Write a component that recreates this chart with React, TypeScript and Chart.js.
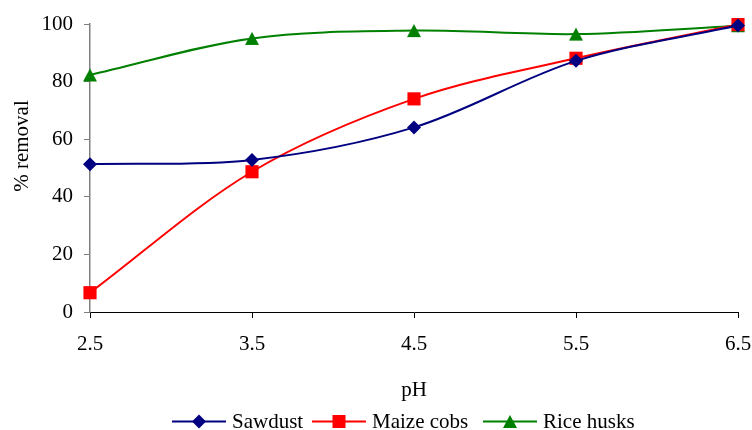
import React, { useEffect, useRef } from "react";
import { Chart, registerables } from "chart.js";

Chart.register(...registerables);

const phValues = [2.5, 3.5, 4.5, 5.5, 6.5];
const sawdust = [51.3, 52.8, 64.1, 87.2, 99.5];
const maizeCobs = [6.7, 48.7, 74.0, 88.1, 99.8];
const riceHusks = [82.3, 95.0, 97.7, 96.5, 99.4];
const seriesNames = ["Sawdust", "Maize cobs", "Rice husks"];
const xTickValues = [2.5, 3.5, 4.5, 5.5, 6.5];
const yTickStep = 20;
const xTitle = "pH";
const yTitle = "% removal";

const FONT = "'Liberation Serif', 'Times New Roman', serif";
const NAVY = "#000080";
const RED = "#FF0000";
const GREEN = "#008000";
const LEGEND_STARTS = [172, 312, 483];

function makeTriangle(color: string, w: number, h: number): HTMLCanvasElement {
  const c = document.createElement("canvas");
  c.width = w + 2;
  c.height = h + 2;
  const ctx = c.getContext("2d")!;
  ctx.fillStyle = color;
  ctx.beginPath();
  ctx.moveTo(1 + w / 2, 1);
  ctx.lineTo(1 + w, 1 + h);
  ctx.lineTo(1, 1 + h);
  ctx.closePath();
  ctx.fill();
  return c;
}

function pts(vals: number[]) {
  return phValues.map((x, i) => ({ x, y: vals[i] }));
}

export default function App() {
  const ref = useRef<HTMLCanvasElement | null>(null);

  useEffect(() => {
    if (!ref.current) return;
    const tri = makeTriangle(GREEN, 14, 13);

    const textPlugin = {
      id: "customText",
      afterDraw(chart: any) {
        const ctx = chart.ctx as CanvasRenderingContext2D;
        const area = chart.chartArea;
        ctx.save();
        ctx.fillStyle = "#000";
        // x title
        ctx.font = `21px ${FONT}`;
        ctx.textAlign = "center";
        ctx.textBaseline = "alphabetic";
        ctx.fillText(xTitle, (area.left + area.right) / 2, 396);
        // y title
        ctx.save();
        ctx.translate(28, 146);
        ctx.rotate(-Math.PI / 2);
        ctx.font = `21px ${FONT}`;
        ctx.textAlign = "center";
        ctx.textBaseline = "alphabetic";
        ctx.fillText(yTitle, 0, 0);
        ctx.restore();

        // legend
        const ly = 421.5;
        const lineLen = 54;
        ctx.font = `21px ${FONT}`;
        ctx.textAlign = "left";
        ctx.textBaseline = "middle";
        const colors = [NAVY, RED, GREEN];
        seriesNames.forEach((name, i) => {
          const x = LEGEND_STARTS[i];
          const col = colors[i];
          ctx.strokeStyle = col;
          ctx.lineWidth = 2;
          ctx.beginPath();
          ctx.moveTo(x, ly);
          ctx.lineTo(x + lineLen, ly);
          ctx.stroke();
          const cx = x + lineLen / 2;
          ctx.fillStyle = col;
          if (i === 0) {
            const r = 7;
            ctx.beginPath();
            ctx.moveTo(cx - r, ly);
            ctx.lineTo(cx, ly - r);
            ctx.lineTo(cx + r, ly);
            ctx.lineTo(cx, ly + r);
            ctx.closePath();
            ctx.fill();
          } else if (i === 1) {
            ctx.fillRect(cx - 6.5, ly - 6.5, 13, 13);
          } else {
            ctx.drawImage(tri, cx - tri.width / 2, ly - tri.height / 2);
          }
          ctx.fillStyle = "#000";
          ctx.fillText(name, x + lineLen + 6, ly + 1);
        });
        ctx.restore();
      },
    };

    const common = {
      borderWidth: 2,
      tension: 0.33,
      fill: false,
      clip: false as any,
      pointBorderWidth: 0,
    };

    const chart = new Chart(ref.current, {
      type: "line",
      data: {
        datasets: [
          {
            ...common,
            label: seriesNames[0],
            data: pts(sawdust),
            borderColor: NAVY,
            backgroundColor: NAVY,
            pointBackgroundColor: NAVY,
            pointBorderColor: NAVY,
            pointStyle: "rectRot",
            pointRadius: 7,
          },
          {
            ...common,
            label: seriesNames[1],
            data: pts(maizeCobs),
            borderColor: RED,
            backgroundColor: RED,
            pointBackgroundColor: RED,
            pointBorderColor: RED,
            pointStyle: "rect",
            pointRadius: 9.3,
          },
          {
            ...common,
            label: seriesNames[2],
            data: pts(riceHusks),
            borderColor: GREEN,
            backgroundColor: GREEN,
            pointBackgroundColor: GREEN,
            pointBorderColor: GREEN,
            pointStyle: tri as any,
            pointRadius: 8,
          },
        ],
      },
      options: {
        responsive: false,
        animation: false,
        layout: { padding: { top: 24, right: 14, left: 0, bottom: 0 } },
        plugins: {
          legend: { display: false },
          tooltip: { enabled: false },
        },
        scales: {
          x: {
            type: "linear",
            min: 2.5,
            max: 6.5,
            afterBuildTicks: (scale: any) => {
              scale.ticks = xTickValues.map((v) => ({ value: v }));
            },
            afterFit: (scale: any) => {
              scale.height = 118;
              scale.paddingRight = 0;
              scale.paddingLeft = 0;
            },
            grid: {
              display: true,
              drawOnChartArea: false,
              drawTicks: true,
              tickLength: 6,
              color: "#000",
              lineWidth: 1,
            },
            border: { display: true, color: "#000", width: 1 },
            ticks: {
              padding: 14,
              color: "#000",
              font: { family: FONT, size: 21 },
              maxRotation: 0,
              autoSkip: false,
              callback: (v: any) => Number(v).toFixed(1),
            },
          },
          y: {
            type: "linear",
            min: 0,
            max: 100,
            afterFit: (scale: any) => {
              scale.width = 90;
              scale.paddingTop = 0;
              scale.paddingBottom = 0;
            },
            grid: {
              display: true,
              drawOnChartArea: false,
              drawTicks: true,
              tickLength: 6,
              color: "#808080",
              lineWidth: 1,
            },
            border: { display: true, color: "#808080", width: 1.5 },
            ticks: {
              stepSize: yTickStep,
              padding: 11,
              color: "#000",
              font: { family: FONT, size: 21 },
            },
          },
        },
      },
      plugins: [textPlugin],
    });
    return () => chart.destroy();
  }, []);

  return (
    <div style={{ position: "absolute", left: 0, top: 0, width: 752, height: 430, background: "#fff" }}>
      <canvas ref={ref} width={752} height={430} style={{ width: 752, height: 430 }} />
    </div>
  );
}
